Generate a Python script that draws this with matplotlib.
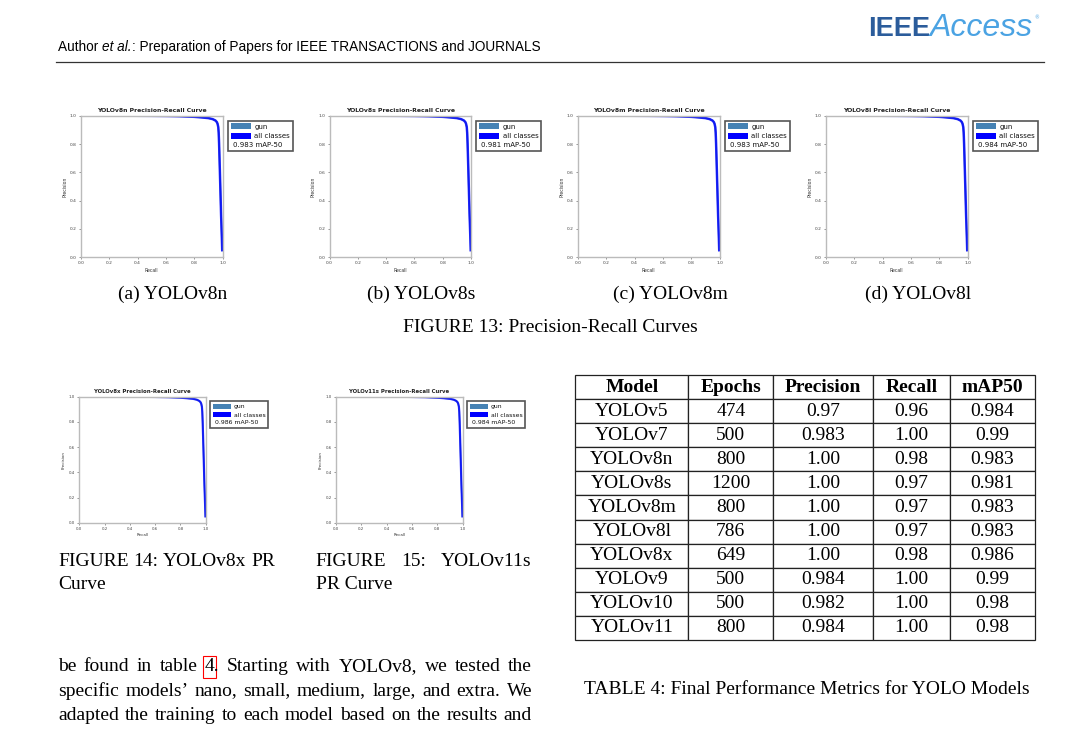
import numpy as np
import matplotlib
matplotlib.use('Agg')
import matplotlib.pyplot as plt
from matplotlib.patches import Patch, Rectangle

W, H = 1072, 730

# PR curve (same shape for every model)
recall = [0.0, 0.3, 0.5, 0.6, 0.7, 0.8, 0.85, 0.9, 0.93, 0.95, 0.96, 0.965,
          0.97, 0.973, 0.976, 0.98, 0.985, 0.99, 0.995, 0.998]
precision = [1.0, 1.0, 0.999, 0.998, 0.996, 0.992, 0.988, 0.983, 0.976, 0.966,
             0.955, 0.943, 0.92, 0.88, 0.80, 0.66, 0.48, 0.30, 0.15, 0.05]

top_models = ['YOLOv8n', 'YOLOv8s', 'YOLOv8m', 'YOLOv8l']
top_map50 = [0.983, 0.981, 0.983, 0.984]
top_letters = ['a', 'b', 'c', 'd']
bottom_models = ['YOLOv8x', 'YOLOv11s']
bottom_map50 = [0.986, 0.984]

table_cols = ['Model', 'Epochs', 'Precision', 'Recall', 'mAP50']
table_models = ['YOLOv5', 'YOLOv7', 'YOLOv8n', 'YOLOv8s', 'YOLOv8m',
                'YOLOv8l', 'YOLOv8x', 'YOLOv9', 'YOLOv10', 'YOLOv11']
table_epochs = ['474', '500', '800', '1200', '800', '786', '649', '500', '500', '800']
table_precision = ['0.97', '0.983', '1.00', '1.00', '1.00', '1.00', '1.00',
                   '0.984', '0.982', '0.984']
table_recall = ['0.96', '1.00', '0.98', '0.97', '0.97', '0.97', '0.98',
                '1.00', '1.00', '1.00']
table_map50 = ['0.984', '0.99', '0.983', '0.981', '0.983', '0.983', '0.986',
               '0.99', '0.98', '0.98']

body_lines = [
    "be found in table 4. Starting with YOLOv8, we tested the",
    "specific models\u2019 nano, small, medium, large, and extra. We",
    "adapted the training to each model based on the results and",
]

SERIF = 'Liberation Serif'
SANS = 'Liberation Sans'

fig = plt.figure(figsize=(W / 100, H / 100), dpi=100)
page = fig.add_axes([0, 0, 1, 1])
page.set_xlim(0, W)
page.set_ylim(H, 0)
page.axis('off')
renderer = fig.canvas.get_renderer()


def text_width(s, **kw):
    t = page.text(0, 0, s + '|', **kw)
    w1 = t.get_window_extent(renderer).width
    t.set_text('|')
    w2 = t.get_window_extent(renderer).width
    t.remove()
    return w1 - w2


def run(parts, x, y):
    # parts: list of (string, kwargs), placed one after another on a baseline
    for s, kw in parts:
        page.text(x, y, s, va='baseline', ha='left', **kw)
        x += text_width(s, **kw)
    return x


def justify(line, x0, x1, y, **kw):
    words = line.split()
    widths = [text_width(w, **kw) for w in words]
    gap = (x1 - x0 - sum(widths)) / (len(words) - 1)
    pos = []
    x = x0
    for w, wd in zip(words, widths):
        page.text(x, y, w, va='baseline', ha='left', **kw)
        pos.append(x)
        x += wd + gap
    return words, pos


def pr_panel(left, top, w, h, name, map50, s=1.0):
    ax = fig.add_axes([left / W, 1 - (top + h) / H, w / W, h / H])
    ax.plot(recall, precision, color='#4682b4', lw=1.2 * s, label='gun')
    ax.plot(recall, precision, color='blue', lw=1.8 * s, alpha=0.8)
    ax.set_xlim(0, 1)
    ax.set_ylim(0, 1)
    ticks = np.arange(0, 1.01, 0.2)
    ax.set_xticks(ticks)
    ax.set_yticks(ticks)
    ax.set_xticklabels([f'{t:.1f}' for t in ticks])
    ax.set_yticklabels([f'{t:.1f}' for t in ticks])
    ax.tick_params(labelsize=3.2 * s, length=1.5, width=0.4, pad=1.5,
                   colors='#444444')
    for sp in ax.spines.values():
        sp.set_color('#bbbbbb')
        sp.set_linewidth(1.0)
    ax.set_title(f'{name} Precision-Recall Curve', fontsize=4.4 * s,
                 fontweight='bold', color='#222222', pad=3)
    ax.set_xlabel('Recall', fontsize=3.3 * s, labelpad=1.5, color='#333333')
    ax.set_ylabel('Precision', fontsize=3.3 * s, labelpad=2, color='#333333')
    handles = [Patch(facecolor='#4682b4'), Patch(facecolor='blue'),
               Patch(facecolor='none', edgecolor='none')]
    leg = ax.legend(handles, ['gun', 'all classes', ' '], loc='upper left',
                    bbox_to_anchor=(1.037, 0.965), fontsize=5.0 * s,
                    fancybox=False, framealpha=1, edgecolor='#555555',
                    borderpad=0.4, labelspacing=0.45, handlelength=2.9,
                    handleheight=0.9, handletextpad=0.55, borderaxespad=0)
    leg.get_frame().set_linewidth(1.2)
    for t in leg.get_texts():
        t.set_color('#111111')
    ax.annotate(f'{map50:.3f} mAP-50', xy=(0.08, 0.22), xycoords=leg,
                fontsize=5.0 * s, va='center', ha='left', color='#111111',
                zorder=10)
    return ax


# header
run([('IEEE', dict(family=SANS, fontweight='bold', fontsize=19.5,
                   color='#2b5c9b')),
     ('Access', dict(family=SANS, style='italic', fontsize=23,
                     color='#4ba3e3'))], 868, 36)
page.text(1034, 19, '\u00ae', fontsize=3.5, color='#4ba3e3', va='baseline')
run([('Author ', dict(family=SANS, fontsize=9.8)),
     ('et al.', dict(family=SANS, fontsize=9.8, style='italic')),
     (': Preparation of Papers for IEEE TRANSACTIONS and JOURNALS',
      dict(family=SANS, fontsize=9.8))], 58, 51)
page.axhline(62, xmin=56 / W, xmax=1044 / W, color='#333333', lw=0.9)

# figure 13
top_lefts = [81, 329.5, 578, 826]
cap_centers = [173, 421, 670, 918]
for i, (m, v) in enumerate(zip(top_models, top_map50)):
    pr_panel(top_lefts[i], 115.7, 141.5, 141.6, m, v)
    page.text(cap_centers[i], 299, f'({top_letters[i]}) {m}', family=SERIF,
              fontsize=14, ha='center', va='baseline')
page.text(550, 332, 'FIGURE 13: Precision-Recall Curves', family=SERIF,
          fontsize=14, ha='center', va='baseline')

# figures 14 and 15
pr_panel(79.3, 396.7, 126.4, 126, bottom_models[0], bottom_map50[0], s=0.88)
pr_panel(336, 396.7, 126.7, 126, bottom_models[1], bottom_map50[1], s=0.88)
justify('FIGURE 14: YOLOv8x PR', 58, 275, 566, family=SERIF, fontsize=14)
page.text(58, 589, 'Curve', family=SERIF, fontsize=14, va='baseline')
justify('FIGURE 15: YOLOv11s', 315.7, 531.7, 566, family=SERIF, fontsize=14)
page.text(315.7, 589, 'PR Curve', family=SERIF, fontsize=14, va='baseline')

# body text
for k, line in enumerate(body_lines):
    words, pos = justify(line, 58, 532, 671 + 24.5 * k, family=SERIF,
                         fontsize=14)
    if k == 0:
        i4 = words.index('4.')
        w4 = text_width('4', family=SERIF, fontsize=14)
        page.add_patch(Rectangle((pos[i4] - 1.5, 656), w4 + 3, 22,
                                 fill=False, edgecolor='red', lw=0.8))

# table 4
rows = list(zip(table_models, table_epochs, table_precision, table_recall,
                table_map50))
col_w = np.array([113, 85, 100, 76.7, 85])
tbl = page.table(cellText=rows, colLabels=table_cols, cellLoc='center',
                 colWidths=list(col_w / col_w.sum()),
                 bbox=[575.3 / W, 1 - 640 / H, (1035 - 575.3) / W, 265 / H])
tbl.auto_set_font_size(False)
tbl.set_fontsize(14)
for (r, c), cell in tbl.get_celld().items():
    cell.set_linewidth(0.9)
    cell.set_edgecolor('#222222')
    txt = cell.get_text()
    txt.set_fontfamily(SERIF)
    if r == 0:
        txt.set_fontweight('bold')
page.text(807, 694, 'TABLE 4: Final Performance Metrics for YOLO Models',
          family=SERIF, fontsize=14, ha='center', va='baseline')

fig.savefig('out.png', dpi=100)
